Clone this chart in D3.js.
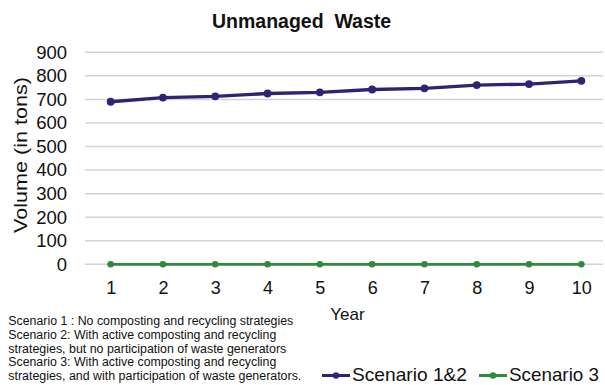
<!DOCTYPE html>
<html>
<head>
<meta charset="utf-8">
<script src="https://cdn.jsdelivr.net/npm/d3@7"></script>
<style>
  html, body { margin: 0; padding: 0; background: #fff; }
  svg { display: block; font-family: "Liberation Sans", Arial, sans-serif; }
</style>
</head>
<body>
<svg id="chart" width="605" height="385"></svg>
<script>
// Years on the x axis
const years = [1, 2, 3, 4, 5, 6, 7, 8, 9, 10];
// Unmanaged waste volume (tons) per scenario
const scenario12 = [690, 708, 713, 725, 730, 742, 747, 761, 765, 779];
const scenario3 = [0, 0, 0, 0, 0, 0, 0, 0, 0, 0];
// Y axis tick values
const yTicks = [0, 100, 200, 300, 400, 500, 600, 700, 800, 900];
// Series names and colours
const seriesNames = ["Scenario 1&2", "Scenario 3"];
const seriesColors = ["#2f2473", "#2e8b3c"];
// Explanatory notes below the chart
const notes = [
  "Scenario 1 : No composting and recycling strategies",
  "Scenario 2: With active composting and recycling",
  "strategies, but no participation of waste generators",
  "Scenario 3: With active composting and recycling",
  "strategies, and with participation of waste generators."
];
const noteWidths = [285, 268, 278, 268, 293];

const svg = d3.select("#chart");
const FONT = "Liberation Sans, Arial, sans-serif";

// Category positions: band centres across the plot width
const plotLeft = 84.5, plotRight = 607.5;
const x = d3.scalePoint().domain(years).range([plotLeft, plotRight]).padding(0.5);
const y = d3.scaleLinear().domain([0, 900]).range([264.3, 52.3]);

// Gridlines
svg.append("g").selectAll("line").data(yTicks).join("line")
  .attr("x1", 85).attr("x2", 603)
  .attr("y1", d => y(d)).attr("y2", d => y(d))
  .attr("stroke", "#d4d4d4").attr("stroke-width", 1.5);

// Y axis labels
const yAxis = d3.axisLeft(y).tickValues(yTicks).tickSize(0).tickPadding(0);
const gy = svg.append("g").attr("transform", "translate(67,0)").call(yAxis);
gy.select(".domain").remove();
gy.selectAll("text").attr("font-size", 18.5).attr("fill", "#111").style("font-family", FONT);

// X axis labels
const xAxis = d3.axisBottom(x).tickSize(0).tickPadding(0);
const gx = svg.append("g").attr("transform", "translate(0,281)").call(xAxis);
gx.select(".domain").remove();
gx.selectAll("text").attr("font-size", 18).attr("fill", "#111").style("font-family", FONT);

// Series lines and markers
const series = [scenario12, scenario3];
const widths = [3.3, 2.8];
const radii = [3.9, 3.3];
const line = d3.line().x((d, i) => x(years[i])).y(d => y(d));
series.forEach((vals, s) => {
  svg.append("path").datum(vals)
    .attr("d", line).attr("fill", "none")
    .attr("stroke", seriesColors[s]).attr("stroke-width", widths[s])
    .attr("stroke-linejoin", "round");
  svg.append("g").selectAll("circle").data(vals).join("circle")
    .attr("cx", (d, i) => x(years[i])).attr("cy", d => y(d))
    .attr("r", radii[s]).attr("fill", seriesColors[s]);
});

// Title
svg.append("text").attr("x", 212).attr("y", 28)
  .attr("font-size", 19.5).attr("font-weight", "bold")
  .attr("fill", "#111").attr("xml:space", "preserve")
  .text("Unmanaged  Waste");

// Axis titles
svg.append("text").attr("transform", "translate(27,155) rotate(-90)")
  .attr("text-anchor", "middle").attr("font-size", 19).attr("fill", "#111")
  .attr("textLength", 156).attr("lengthAdjust", "spacingAndGlyphs")
  .text("Volume (in tons)");
svg.append("text").attr("x", 347.5).attr("y", 320)
  .attr("text-anchor", "middle").attr("font-size", 17).attr("fill", "#111")
  .text("Year");

// Notes
svg.append("g").selectAll("text").data(notes).join("text")
  .attr("x", 8.3).attr("y", (d, i) => 325 + i * 13.8)
  .attr("font-size", 12.3).attr("fill", "#111")
  .attr("textLength", (d, i) => noteWidths[i]).attr("lengthAdjust", "spacingAndGlyphs")
  .text(d => d);

// Legend
const legendX = [322, 479];
const legendW = [115, 90];
seriesNames.forEach((name, s) => {
  const g = svg.append("g").attr("transform", `translate(${legendX[s]},375.5)`);
  g.append("line").attr("x1", 0).attr("x2", 28).attr("y1", 0).attr("y2", 0)
    .attr("stroke", seriesColors[s]).attr("stroke-width", 3);
  g.append("circle").attr("cx", 14).attr("cy", 0).attr("r", 3.2).attr("fill", seriesColors[s]);
  g.append("text").attr("x", 30).attr("y", 5.8).attr("font-size", 18.5).attr("fill", "#111")
    .attr("textLength", legendW[s]).attr("lengthAdjust", "spacingAndGlyphs")
    .text(name);
});
</script>
</body>
</html>
